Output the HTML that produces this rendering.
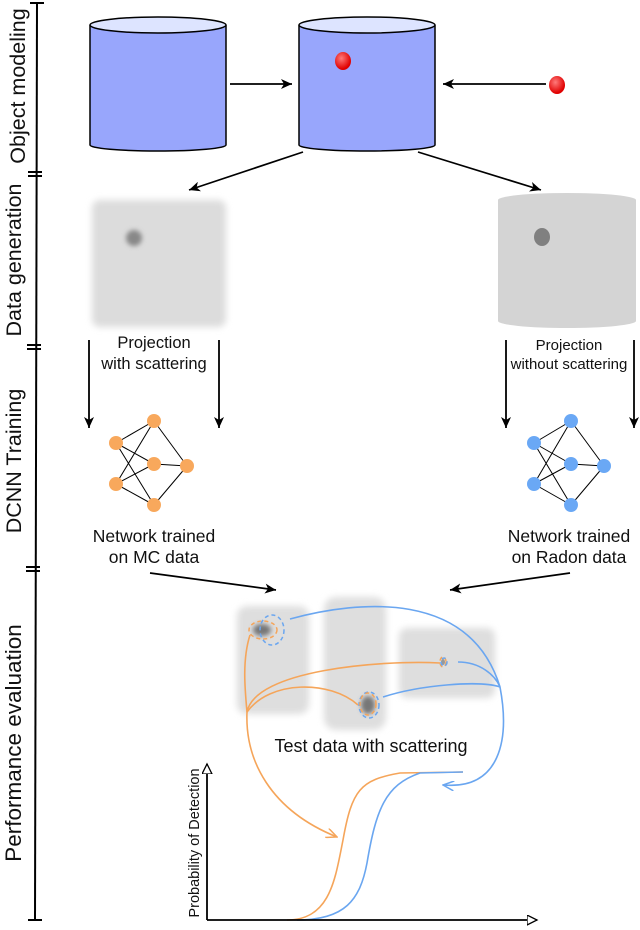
<!DOCTYPE html>
<html><head><meta charset="utf-8"><style>
html,body{margin:0;padding:0;background:#fff;}
svg{display:block;font-family:"Liberation Sans",sans-serif;}
</style></head><body>
<svg width="640" height="930" viewBox="0 0 640 930" xmlns="http://www.w3.org/2000/svg">
<defs>
<marker id="ah" markerWidth="12" markerHeight="10" refX="11" refY="5" orient="auto" markerUnits="userSpaceOnUse">
<path d="M0,0 L11,5 L0,10 L3,5 Z" fill="#000"/></marker>
<marker id="ao" markerWidth="12" markerHeight="10" refX="11" refY="5" orient="auto" markerUnits="userSpaceOnUse">
<path d="M0,0 L11,5 L0,10" fill="none" stroke="#f5a55a" stroke-width="1.5"/></marker>
<marker id="ab" markerWidth="12" markerHeight="10" refX="11" refY="5" orient="auto" markerUnits="userSpaceOnUse">
<path d="M0,0 L11,5 L0,10" fill="none" stroke="#6aa6f0" stroke-width="1.5"/></marker>
<marker id="aopen" markerWidth="12" markerHeight="12" refX="10" refY="5" orient="auto" markerUnits="userSpaceOnUse">
<path d="M0,0 L10,5 L0,10 Z" fill="#fff" stroke="#000" stroke-width="1.3"/></marker>
<filter id="bl" x="-20%" y="-20%" width="140%" height="140%"><feGaussianBlur stdDeviation="3.5"/></filter>
<filter id="bl2" x="-50%" y="-50%" width="200%" height="200%"><feGaussianBlur stdDeviation="2.5"/></filter>
<radialGradient id="rg" cx="40%" cy="35%" r="60%"><stop offset="0" stop-color="#ff7a7a"/><stop offset="1" stop-color="#e00000"/></radialGradient>
</defs>

<!-- left axis -->
<g stroke="#000" stroke-width="2">
<line x1="37" y1="3" x2="35" y2="920"/>
<line x1="30" y1="3" x2="44" y2="3"/>
<line x1="28" y1="172" x2="42" y2="172"/><line x1="28" y1="176" x2="42" y2="176"/>
<line x1="27" y1="345" x2="41" y2="345"/><line x1="27" y1="349" x2="41" y2="349"/>
<line x1="26" y1="567" x2="40" y2="567"/><line x1="26" y1="571" x2="40" y2="571"/>
<line x1="28" y1="920" x2="42" y2="920"/>
</g>
<g font-size="21.5" fill="#111" text-anchor="middle">
<text transform="translate(25,86) rotate(-90)">Object modeling</text>
<text transform="translate(21,260) rotate(-90)">Data generation</text>
<text transform="translate(21,461) rotate(-90)">DCNN Training</text>
<text transform="translate(21,743) rotate(-90)" font-size="22.5">Performance evaluation</text>
</g>

<!-- cylinders -->
<g stroke="#000" stroke-width="1.5">
<path d="M90,25 V145 A68,6 0 0 0 226,145 V25" fill="#98a6fc"/>
<ellipse cx="158" cy="25" rx="68" ry="8" fill="#dde4ff"/>
<path d="M299,25 V145 A68,6 0 0 0 435,145 V25" fill="#98a6fc"/>
<ellipse cx="367" cy="25" rx="68" ry="8" fill="#dde4ff"/>
</g>
<ellipse cx="343" cy="61" rx="8" ry="9" fill="url(#rg)"/>
<ellipse cx="557" cy="85" rx="8" ry="9" fill="url(#rg)"/>
<g stroke="#000" stroke-width="1.7" fill="none" marker-end="url(#ah)">
<line x1="230" y1="84" x2="292" y2="84"/>
<line x1="546" y1="84" x2="443" y2="84"/>
<line x1="303" y1="152" x2="189" y2="190"/>
<line x1="418" y1="152" x2="541" y2="190"/>
</g>

<!-- data generation -->
<rect x="92" y="200" width="134" height="127" rx="8" fill="#dcdcdc" filter="url(#bl)"/>
<ellipse cx="134" cy="238" rx="8" ry="8" fill="#888" filter="url(#bl2)"/>
<g fill="#d4d4d4">
<rect x="498" y="200" width="138" height="121"/>
<ellipse cx="567" cy="200" rx="69" ry="7"/>
<ellipse cx="567" cy="321" rx="69" ry="7"/>
</g>
<ellipse cx="542" cy="237" rx="8" ry="9" fill="#808080"/>
<g font-size="16.5" fill="#111" text-anchor="middle">
<text x="154" y="348">Projection</text><text x="154" y="369">with scattering</text>
</g>
<g font-size="15" fill="#111" text-anchor="middle">
<text x="569" y="350">Projection</text><text x="569" y="369">without scattering</text>
</g>
<g stroke="#000" stroke-width="1.8" marker-end="url(#ah)">
<line x1="89" y1="340" x2="89" y2="428"/>
<line x1="219" y1="340" x2="219" y2="428"/>
<line x1="506" y1="340" x2="506" y2="428"/>
<line x1="634" y1="340" x2="634" y2="428"/>
</g>

<!-- networks -->
<g stroke="#000" stroke-width="1">
<path d="M116,443 L154,421 M116,443 L154,464 M116,443 L154,505 M116,484 L154,421 M116,484 L154,464 M116,484 L154,505 M154,421 L187,466 M154,464 L187,466 M154,505 L187,466"/>
<path d="M534,443 L571,421 M534,443 L571,464 M534,443 L571,505 M534,484 L571,421 M534,484 L571,464 M534,484 L571,505 M571,421 L604,466 M571,464 L604,466 M571,505 L604,466"/>
</g>
<g fill="#f8a85c">
<circle cx="116" cy="443" r="7"/><circle cx="116" cy="484" r="7"/><circle cx="154" cy="421" r="7"/><circle cx="154" cy="464" r="7"/><circle cx="154" cy="505" r="7"/><circle cx="187" cy="466" r="7"/>
</g>
<g fill="#6aa8f5">
<circle cx="534" cy="443" r="7"/><circle cx="534" cy="484" r="7"/><circle cx="571" cy="421" r="7"/><circle cx="571" cy="464" r="7"/><circle cx="571" cy="505" r="7"/><circle cx="604" cy="466" r="7"/>
</g>
<g font-size="17.5" fill="#111" text-anchor="middle">
<text x="154" y="542">Network trained</text><text x="154" y="563">on MC data</text>
<text x="569" y="542">Network trained</text><text x="569" y="563">on Radon data</text>
</g>
<g stroke="#000" stroke-width="1.7" marker-end="url(#ah)">
<line x1="150" y1="573" x2="276" y2="590"/>
<line x1="570" y1="573" x2="450" y2="590"/>
</g>

<!-- test data -->
<rect x="237" y="606" width="72" height="108" rx="10" fill="#dedede" filter="url(#bl)"/>
<rect x="324" y="597" width="62" height="133" rx="12" fill="#dedede" filter="url(#bl)"/>
<rect x="399" y="628" width="96" height="70" rx="8" fill="#dedede" filter="url(#bl)"/>
<ellipse cx="262" cy="630" rx="9" ry="6" fill="#777" filter="url(#bl2)"/>
<ellipse cx="368" cy="705" rx="7" ry="9" fill="#777" filter="url(#bl2)"/>
<ellipse cx="443" cy="662" rx="2" ry="3" fill="#999"/>
<g fill="none" stroke-width="1.5" stroke-dasharray="4,3">
<ellipse cx="263" cy="630" rx="14" ry="9" stroke="#f5a55a"/>
<ellipse cx="272" cy="630" rx="12" ry="15" stroke="#6aa6f0"/>
<ellipse cx="369" cy="705" rx="10" ry="13" stroke="#6aa6f0"/>
<ellipse cx="368" cy="704" rx="8" ry="11" stroke="#f5a55a"/>
<ellipse cx="443" cy="662" rx="3" ry="5" stroke="#f5a55a"/>
<ellipse cx="444" cy="662" rx="3" ry="4" stroke="#6aa6f0"/>
</g>
<text x="371" y="752" font-size="18" fill="#111" text-anchor="middle">Test data with scattering</text>

<!-- orange connections -->
<g fill="none" stroke="#f5a55a" stroke-width="1.6">
<path d="M250,635 C242,660 245,690 247,712"/>
<path d="M247,712 C255,670 380,660 440,663"/>
<path d="M247,712 C270,680 330,680 358,705"/>
<path d="M247,712 C245,760 270,810 337,837" marker-end="url(#ao)"/>
<path d="M287,920 C330,920 335,880 343,840 C352,790 360,780 400,773 L463,772"/>
</g>
<!-- blue connections -->
<g fill="none" stroke="#6aa6f0" stroke-width="1.6">
<path d="M290,619 C360,600 470,590 500,687"/>
<path d="M383,697 C420,685 480,680 500,687"/>
<path d="M458,662 C480,662 495,675 500,687"/>
<path d="M500,687 C510,740 500,790 443,785" marker-end="url(#ab)"/>
<path d="M297,920 C345,920 360,900 367,863 C376,810 385,785 420,773 L463,772"/>
</g>

<!-- plot axes -->
<g stroke="#000" stroke-width="1.8">
<line x1="207" y1="920" x2="207" y2="764" marker-end="url(#aopen)"/>
<line x1="207" y1="920" x2="537" y2="920" marker-end="url(#aopen)"/>
</g>
<text transform="translate(199,843) rotate(-90)" font-size="14.5" fill="#111" text-anchor="middle">Probability of Detection</text>
</svg>
</body></html>
